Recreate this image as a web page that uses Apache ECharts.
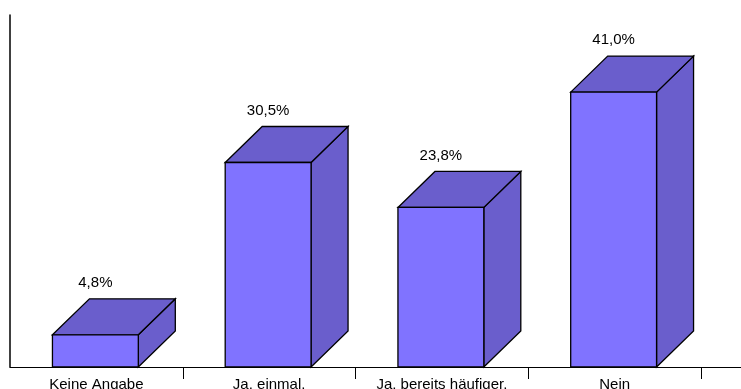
<!DOCTYPE html>
<html>
<head>
<meta charset="utf-8">
<script src="https://cdn.jsdelivr.net/npm/echarts@6/dist/echarts.min.js"></script>
<style>
html,body{margin:0;padding:0;background:#fff;}
#chart{width:741px;height:389px;}
</style>
</head>
<body>
<div id="chart"></div>
<script>
const categories = ['Keine Angabe', 'Ja, einmal.', 'Ja, bereits häufiger.', 'Nein'];
const values = [4.8, 30.5, 23.8, 41.0];

const FRONT = '#8073FF';
const DARK = '#6A5ECC';
const DX = 37, DY = -36;

function fmt(v) { return v.toFixed(1).replace('.', ',') + '%'; }

const chart = echarts.init(document.getElementById('chart'), null, {renderer: 'canvas'});

const option = {
  animation: false,
  backgroundColor: '#fff',
  grid: {left: 10, right: 40, top: 15, bottom: 22, containLabel: false, outerBoundsMode: 'none'},
  xAxis: {
    type: 'category',
    data: categories,
    boundaryGap: true,
    axisLine: {show: true, lineStyle: {color: '#000', width: 1}},
    axisTick: {show: true, length: 12, lineStyle: {color: '#000', width: 1},
      interval: function (index) { return index !== 0; }},
    axisLabel: {color: '#000', fontSize: 15, fontFamily: 'Liberation Sans, Arial, sans-serif', margin: 10, interval: 0}
  },
  yAxis: {
    type: 'value',
    min: 0, max: 52.5,
    axisLine: {show: true, lineStyle: {color: '#000', width: 1.5}},
    axisTick: {show: false},
    axisLabel: {show: false},
    splitLine: {show: false}
  },
  series: [{
    type: 'custom',
    data: values.map((v, i) => [i, v]),
    renderItem: function (params, api) {
      const idx = api.value(0);
      const val = api.value(1);
      const base = api.coord([idx, 0]);
      const top = api.coord([idx, val]);
      const band = api.size([1, 0])[0];
      const w = band * 0.497;
      const x0 = base[0] - 1 - w / 2;
      const x1 = x0 + w;
      const yb = base[1];
      const yt = top[1];
      const stroke = {stroke: '#000', lineWidth: 1.3, lineJoin: 'miter'};
      return {
        type: 'group',
        children: [
          {type: 'polygon', shape: {points: [[x1, yb], [x1 + DX, yb + DY], [x1 + DX, yt + DY], [x1, yt]]},
           style: Object.assign({fill: DARK}, stroke)},
          {type: 'polygon', shape: {points: [[x0, yt], [x0 + DX, yt + DY], [x1 + DX, yt + DY], [x1, yt]]},
           style: Object.assign({fill: DARK}, stroke)},
          {type: 'rect', shape: {x: x0, y: yt, width: w, height: yb - yt},
           style: Object.assign({fill: FRONT}, stroke)},
          {type: 'text', x: (x0 + x1) / 2, y: yt + DY - 16,
           style: {text: fmt(val), fill: '#000', fontSize: 15, fontFamily: 'Liberation Sans, Arial, sans-serif',
                   align: 'center', verticalAlign: 'middle'}}
        ]
      };
    }
  }]
};

chart.setOption(option);

const yPx = chart.convertToPixel({yAxisIndex: 0}, 0);
const c0 = chart.convertToPixel({xAxisIndex: 0}, categories[0]);
const c1 = chart.convertToPixel({xAxisIndex: 0}, categories[1]);
const xEnd = chart.convertToPixel({xAxisIndex: 0}, categories[categories.length - 1]) + (c1 - c0) / 2;
chart.setOption({
  graphic: [{
    type: 'line', silent: true,
    shape: {x1: Math.round(xEnd), y1: Math.round(yPx) + 0.5, x2: 741, y2: Math.round(yPx) + 0.5},
    style: {stroke: '#000', lineWidth: 1}
  }]
});
</script>
</body>
</html>
